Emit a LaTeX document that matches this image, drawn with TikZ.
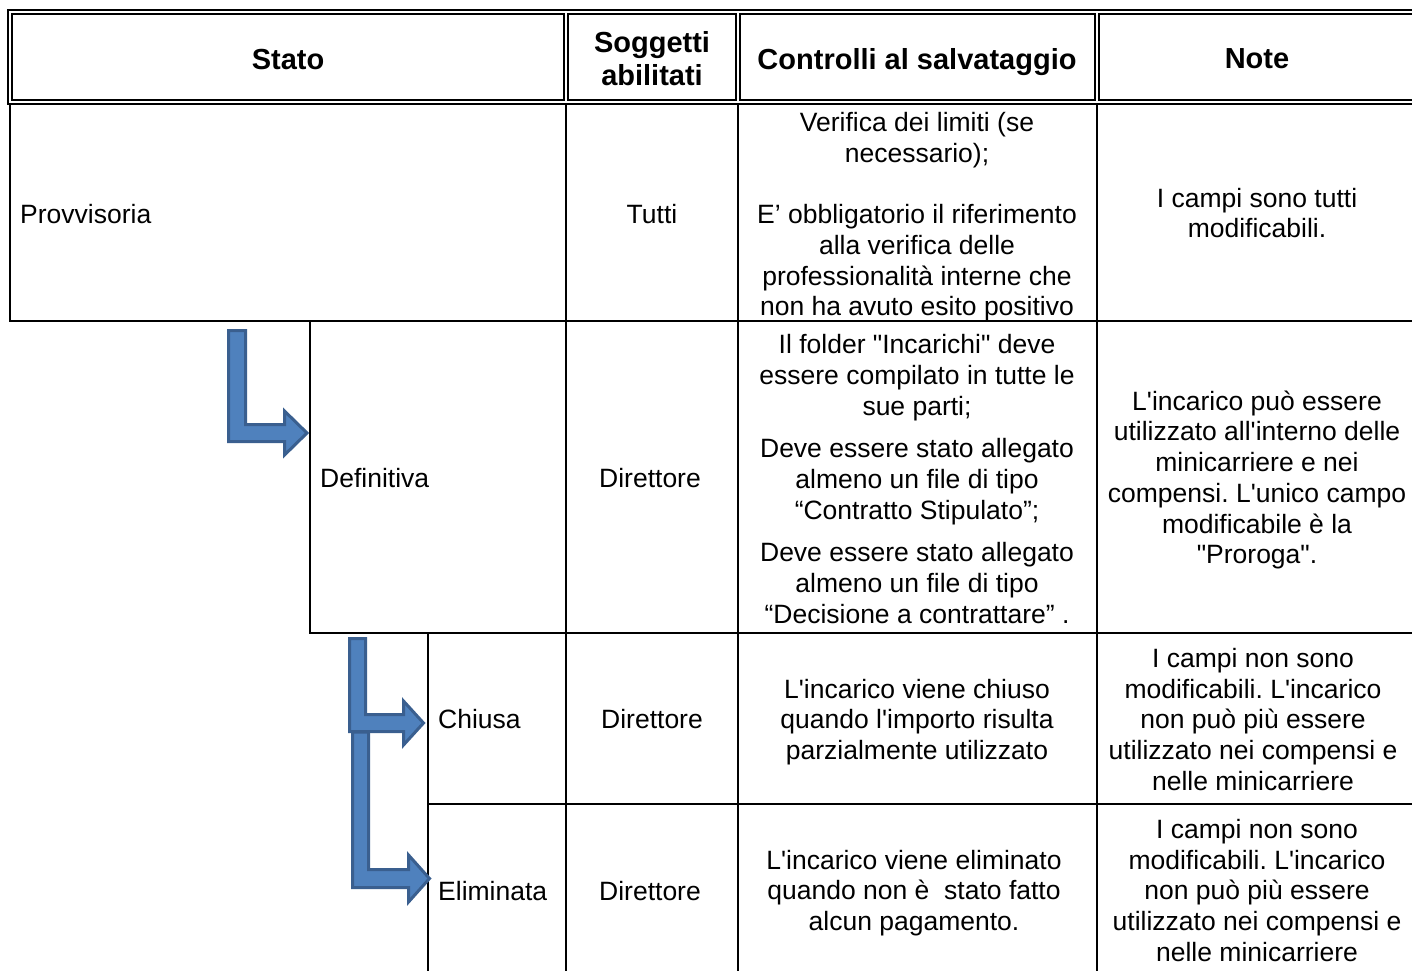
\documentclass[tikz,border=0pt]{standalone}
\usepackage{fontspec}
\newfontfamily\arial{Liberation Sans}
\definecolor{arrowfill}{HTML}{4F81BD}
\definecolor{arrowline}{HTML}{3A5F8F}
\begin{document}
\frenchspacing
\begin{tikzpicture}[x=1pt,y=-1pt,
  grid/.style={line width=2pt, draw=black},
  body/.style={font=\arial\fontsize{26.5}{30.7}\selectfont\frenchspacing, align=center, inner sep=0pt},
  head/.style={font=\arial\bfseries\fontsize{29}{33}\selectfont, align=center, inner sep=0pt},
  lbl/.style={body, anchor=west},
  flowarrow/.style={fill=arrowfill, draw=arrowline, line width=3pt, line join=miter}]
\useasboundingbox (0,0) rectangle (1412,970);
\begin{scope}
\clip (0,0) rectangle (1412,970);
% header frame (double lines)
\draw[grid] (8,10) rectangle (1440,104);
\draw[grid] (12,14) rectangle (564,100);
\draw[grid] (568,14) rectangle (736,100);
\draw[grid] (740,14) rectangle (1095,100);
\draw[grid] (1099,14) rectangle (1440,100);
% body grid
\draw[grid] (10,104) -- (10,321) -- (1440,321);
\draw[grid] (566,104) -- (566,980);
\draw[grid] (738,104) -- (738,980);
\draw[grid] (1097,104) -- (1097,980);
\draw[grid] (310,321) -- (310,633) -- (1440,633);
\draw[grid] (428,633) -- (428,980);
\draw[grid] (428,804) -- (1440,804);
% arrows
\draw[flowarrow] (228.5,330.5) -- (245.5,330.5) -- (245.5,424.5) -- (284.5,424.5) -- (284.5,411) -- (307,433) -- (284.5,455) -- (284.5,441.5) -- (228.5,441.5) -- cycle;
\draw[flowarrow] (349.5,638.5) -- (365.5,638.5) -- (365.5,714.5) -- (403.5,714.5) -- (403.5,701) -- (423.5,723) -- (403.5,745) -- (403.5,731.5) -- (349.5,731.5) -- cycle;
\draw[flowarrow] (352.5,732) -- (368.5,732) -- (368.5,869.5) -- (408.5,869.5) -- (408.5,855) -- (429.5,878.5) -- (408.5,902) -- (408.5,887.5) -- (352.5,887.5) -- cycle;
\end{scope}
% header texts
\node[head] (hstato) at (288,60) {Stato};
\node[head] (hsogg) at (652,59) {Soggetti\\abilitati};
\node[head] (hcontr) at (917,62) {Controlli al salvataggio};
\node[head] (hnote) at (1257,59) {Note};
% row 1
\node[lbl] (s1) at (20,214) {Provvisoria};
\node[body] (a1) at (652,214) {Tutti};
\node[body] (c1) at (917,217) {Verifica dei limiti (se\\necessario);\\[30.7pt]E’ obbligatorio il riferimento\\alla verifica delle\\professionalità interne che\\non ha avuto esito positivo};
\node[body] (n1) at (1257,213) {I campi sono tutti\\modificabili.};
% row 2
\node[lbl] (s2) at (320,478) {Definitiva};
\node[body] (a2) at (650,478) {Direttore};
\node[body] (c2) at (917,479) {Il folder "Incarichi" deve\\essere compilato in tutte le\\sue parti;\\[12pt]Deve essere stato allegato\\almeno un file di tipo\\“Contratto Stipulato”;\\[12pt]Deve essere stato allegato\\almeno un file di tipo\\“Decisione a contrattare” .};
\node[body] (n2) at (1257,480) {L'incarico può essere\\utilizzato all'interno delle\\minicarriere e nei\\compensi. L'unico campo\\modificabile è la\\"Proroga".};
% row 3
\node[lbl] (s3) at (438,719) {Chiusa};
\node[body] (a3) at (652,719) {Direttore};
\node[body] (c3) at (917,722) {L'incarico viene chiuso\\quando l'importo risulta\\parzialmente utilizzato};
\node[body] (n3) at (1253,719.5) {I campi non sono\\modificabili. L'incarico\\non può più essere\\utilizzato nei compensi e\\nelle minicarriere};
% row 4
\node[lbl] (s4) at (438,891) {Eliminata};
\node[body] (a4) at (650,891) {Direttore};
\node[body] (c4) at (914,893) {L'incarico viene eliminato\\quando non è\ \ stato fatto\\alcun pagamento.};
\node[body] (n4) at (1257,890.5) {I campi non sono\\modificabili. L'incarico\\non può più essere\\utilizzato nei compensi e\\nelle minicarriere};
\end{tikzpicture}
\end{document}
